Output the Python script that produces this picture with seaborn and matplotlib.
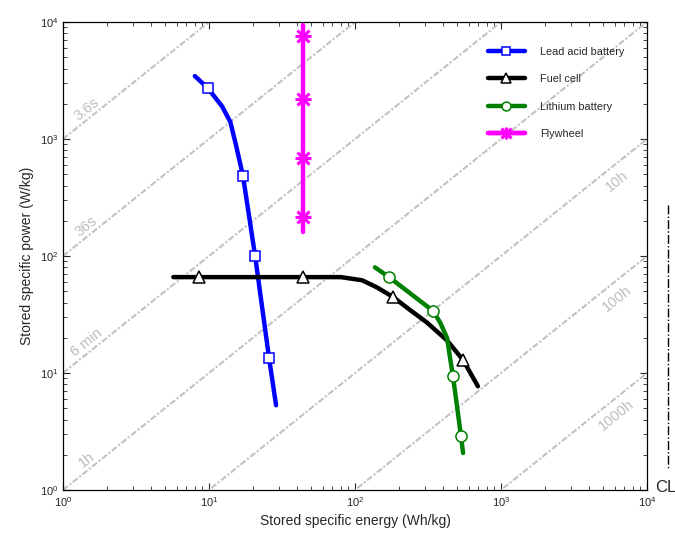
import numpy as np
import pandas as pd
import matplotlib
matplotlib.use('Agg')
import matplotlib.pyplot as plt
from matplotlib.lines import Line2D
import seaborn as sns

# Series (energy in Wh/kg, power in W/kg)
lead_curve_e = [8.0, 9.8, 12.3, 14.0, 15.3, 17.1, 20.7, 25.8, 28.8]
lead_curve_p = [3450, 2730, 1900, 1400, 890, 483, 100, 13.4, 5.3]
lead_mark_e = [9.8, 17.1, 20.7, 25.8]
lead_mark_p = [2730, 483, 100, 13.4]

fuel_curve_e = [5.7, 8.5, 44, 80, 112, 141, 182, 238, 311, 427, 550, 695]
fuel_curve_p = [66, 66, 66, 66, 62, 54, 44.7, 34.6, 27, 19, 12.9, 7.7]
fuel_mark_e = [8.5, 44, 182, 550]
fuel_mark_p = [66, 66, 44.7, 12.9]

li_curve_e = [137, 171, 342, 383, 427, 447, 469, 532, 550]
li_curve_p = [80, 66, 34, 27, 20, 13.7, 9.4, 2.9, 2.07]
li_mark_e = [171, 342, 469, 532]
li_mark_p = [66, 34, 9.4, 2.9]

fly_curve_e = [44, 44]
fly_curve_p = [9400, 160]
fly_mark_e = [44, 44, 44, 44]
fly_mark_p = [7600, 2200, 690, 215]

# constant discharge time lines (hours) and their labels
time_hours = [0.001, 0.01, 0.1, 1, 10, 100, 1000]
time_labels = ['3.6s', '36s', '6 min', '1h', '10h', '100h', '1000h']

sns.set_style('ticks')
plt.rcParams['font.family'] = ['Liberation Sans', 'DejaVu Sans']
plt.rcParams['mathtext.fontset'] = 'custom'
plt.rcParams['mathtext.rm'] = 'Liberation Sans'

fig = plt.figure(figsize=(6.75, 5.34), dpi=100)
ax = fig.add_axes([0.0933, 0.0824, 0.8652, 0.8764])
ax.set_xscale('log')
ax.set_yscale('log')

# time diagonals
e_grid = np.logspace(0, 4, 50)
for t, lab in zip(time_hours, time_labels):
    ax.plot(e_grid, e_grid / t, color='#c2c2c2', lw=1.5, ls=(0, (3, 1, 1, 1)), zorder=1)
    if t < 5:
        e_lab = 1.45
        off = (0, 8)
    else:
        e_lab = 6200
        off = (0, -13)
    ax.annotate(lab, xy=(e_lab, e_lab / t), xytext=off, textcoords='offset points',
                rotation=38.7, ha='center', va='center', color='#bdbdbd', fontsize=10.5)

series = [
    ('Lead acid battery', lead_curve_e, lead_curve_p, lead_mark_e, lead_mark_p, '#0000ff', 's', 6.5),
    ('Fuel cell', fuel_curve_e, fuel_curve_p, fuel_mark_e, fuel_mark_p, 'black', '^', 8.5),
    ('Lithium battery', li_curve_e, li_curve_p, li_mark_e, li_mark_p, '#008000', 'o', 8),
    ('Flywheel', fly_curve_e, fly_curve_p, fly_mark_e, fly_mark_p, '#ff00ff', 'star', 11),
]

handles = []
for name, ce, cp, me, mp, col, mk, ms in series:
    curve = pd.DataFrame({'E': ce, 'P': cp})
    marks = pd.DataFrame({'E': me, 'P': mp})
    sns.lineplot(data=curve, x='E', y='P', ax=ax, color=col, lw=3.2, sort=False,
                 estimator=None, legend=False, zorder=3)
    if mk == 'star':
        # asterisk = plus and cross on top of each other
        ax.plot(marks['E'], marks['P'], ls='none', marker='x', ms=ms * 0.75, mec=col, mew=2.2, zorder=4)
        ax.plot(marks['E'], marks['P'], ls='none', marker='+', ms=ms, mec=col, mew=2.2, zorder=4)
        h1 = Line2D([], [], color=col, lw=3.2, marker='x', ms=ms * 0.65, mec=col, mew=2.2)
        h2 = Line2D([], [], color=col, lw=3.2, marker='+', ms=ms * 0.85, mec=col, mew=2.2)
        handles.append((h1, h2))
    else:
        ax.plot(marks['E'], marks['P'], ls='none', marker=mk, ms=ms, mfc='white',
                mec=col, mew=1.1, zorder=4)
        handles.append(Line2D([], [], color=col, lw=3.2, marker=mk, ms=ms * 0.8,
                              mfc='white', mec=col, mew=1.1))

ax.set_xlim(1, 1e4)
ax.set_ylim(1, 1e4)
ax.set_xlabel('Stored specific energy (Wh/kg)', fontsize=10)
ax.set_ylabel('Stored specific power (W/kg)', fontsize=10)
ax.tick_params(which='both', direction='in', top=True, right=True, labelsize=8)
ax.tick_params(which='major', length=5)
ax.tick_params(which='minor', length=3)
for sp in ax.spines.values():
    sp.set_color('black')
    sp.set_linewidth(0.9)

leg = ax.legend(handles=handles, labels=[s[0] for s in series], loc='upper right',
                bbox_to_anchor=(0.985, 0.977), borderaxespad=0, fontsize=7.8,
                handlelength=3.4, labelspacing=1.6, handletextpad=1.4, borderpad=1.3,
                fancybox=False, framealpha=0)
leg.get_frame().set_edgecolor('black')
leg.get_frame().set_linewidth(0.9)

# clipped bits of the neighbouring panel at the right edge
fig.text(655 / 675, 1 - 492 / 534, 'CL', fontsize=12, va='baseline', ha='left')
fig.add_artist(Line2D([668 / 675, 668 / 675], [1 - 205 / 534, 1 - 468 / 534],
                      color='black', lw=1, ls='-.', transform=fig.transFigure))

fig.savefig('out.png', dpi=100)
